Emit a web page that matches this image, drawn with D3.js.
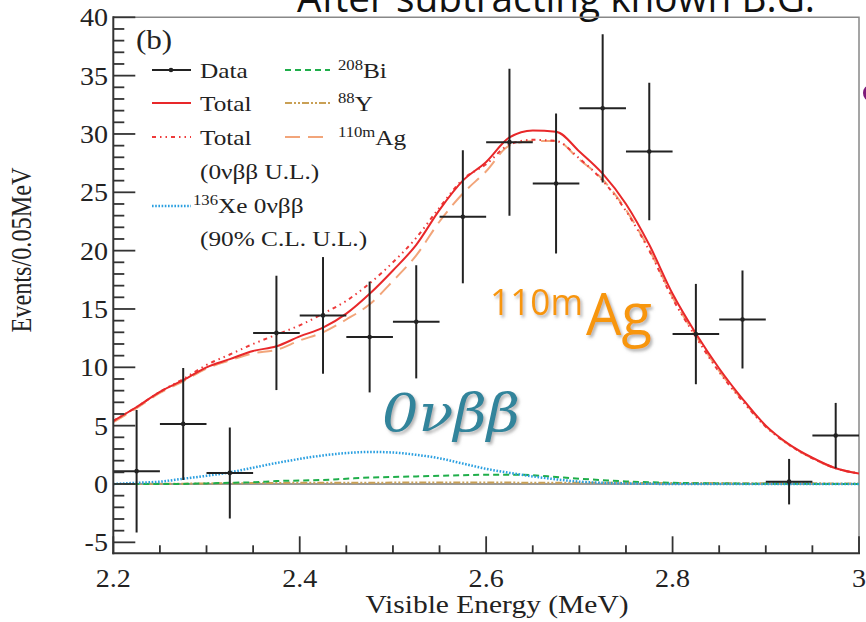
<!DOCTYPE html>
<html><head><meta charset="utf-8">
<script src="https://cdn.jsdelivr.net/npm/d3@7/dist/d3.min.js"></script>
<style>html,body{margin:0;padding:0;background:#fff;}svg{display:block;}</style>
</head><body>
<script>
// ---------- DATA ----------
const binCenters = [2.225,2.275,2.325,2.375,2.425,2.475,2.525,2.575,2.625,2.675,2.725,2.775,2.825,2.875,2.925,2.975];
const counts     = [1.1, 5.15, 0.95, 12.95, 14.45, 12.6, 13.9, 22.9, 29.3, 25.75, 32.2, 28.5, 12.85, 14.1, 0.2, 4.15];
const errors     = [5.25, 4.8, 3.9, 4.9, 5.0, 4.75, 4.85, 5.7, 6.3, 6.0, 6.35, 5.9, 4.3, 4.2, 1.95, 2.8];
const binHalfWidth = 0.025;

const energies = [2.2,2.225,2.25,2.275,2.3,2.325,2.35,2.375,2.4,2.425,2.45,2.475,2.5,2.525,2.55,2.575,2.6,2.625,2.65,2.675,2.7,2.725,2.75,2.775,2.8,2.825,2.85,2.875,2.9,2.925,2.95,2.975,3.0];
const totalFit   = [5.4,6.6,7.9,8.9,10.0,10.7,11.4,11.8,12.65,13.4,14.6,16.3,18.3,20.5,23.5,26.0,27.6,29.7,30.3,30.2,28.5,26.6,24.0,20.5,16.3,12.9,9.9,7.3,5.0,3.4,2.25,1.35,0.9];
const totalUL    = [5.4,6.6,7.9,9.0,10.2,11.1,12.0,12.8,13.6,14.6,15.7,17.2,19.0,21.1,23.7,26.1,27.4,29.1,29.5,29.4,27.9,26.0,23.4,20.0,15.9,12.6,9.6,7.1,4.9,3.35,2.2,1.35,0.9];
const ag110m     = [5.3,6.5,7.8,8.8,9.9,10.6,11.2,11.5,12.3,13.0,14.1,15.4,17.4,19.6,22.5,24.9,26.8,29.0,29.4,29.4,27.8,26.1,23.5,20.1,16.0,12.7,9.7,7.2,4.95,3.35,2.2,1.35,0.9];
const xe0nbb     = [0.0,0.1,0.2,0.45,0.7,1.0,1.4,1.8,2.15,2.45,2.65,2.75,2.7,2.5,2.2,1.75,1.3,0.95,0.65,0.4,0.2,0.1,0.05,0.02,0,0,0,0,0,0,0,0,0];
const bi208      = [0,0,0,0.01,0.05,0.1,0.15,0.25,0.3,0.35,0.45,0.55,0.6,0.65,0.7,0.75,0.8,0.8,0.75,0.6,0.45,0.33,0.22,0.15,0.1,0.07,0.05,0.03,0.02,0.02,0.01,0.01,0.01];
const y88        = [0,0.01,0.02,0.03,0.05,0.06,0.08,0.09,0.1,0.1,0.11,0.11,0.12,0.12,0.12,0.12,0.12,0.12,0.11,0.11,0.1,0.1,0.1,0.09,0.09,0.08,0.08,0.07,0.07,0.06,0.06,0.05,0.05];

const xTickLabels = ["2.2","2.4","2.6","2.8","3"];
const yTickLabels = ["-5","0","5","10","15","20","25","30","35","40"];

// ---------- LAYOUT ----------
const W = 866, H = 622;
const L = 113.3, R = 859, T = 17.3, B = 553.3;
const svg = d3.select("body").append("svg").attr("width", W).attr("height", H);
const x = d3.scaleLinear().domain([2.2, 3.0]).range([L, R]);
const y = d3.scaleLinear().domain([-5.94, 40]).range([B, T]);
const serif = "'Liberation Serif','Times New Roman',serif";
const SX = 1.15;

const defs = svg.append("defs");
defs.append("clipPath").attr("id","clip").append("rect").attr("x",L).attr("y",T).attr("width",R-L).attr("height",B-T);
const f = defs.append("filter").attr("id","shadow").attr("x","-10%").attr("y","-10%").attr("width","130%").attr("height","140%");
f.append("feDropShadow").attr("dx",2).attr("dy",2.5).attr("stdDeviation",1.6).attr("flood-color","#777").attr("flood-opacity",0.55);

function stext(g, px, py, str, fs, anchor, sx) {
  return g.append("text")
    .attr("transform", `translate(${px},${py}) scale(${sx||SX},1)`)
    .attr("font-family", serif).attr("font-size", fs)
    .attr("text-anchor", anchor || "start").attr("fill", "#222").text(str);
}

// Title (cut off at top, as in the reference)
svg.append("text").attr("x", 297).attr("y", 12).attr("font-family","'Open Sans','Liberation Sans',sans-serif")
  .attr("font-size", 40).attr("textLength", 518).attr("lengthAdjust","spacingAndGlyphs").attr("fill","#111")
  .text("After subtracting known B.G.");

// purple mark at right edge
svg.append("ellipse").attr("cx", 870).attr("cy", 93).attr("rx", 7).attr("ry", 8).attr("fill", "#7d1a7a");

// frame top/right
svg.append("path").attr("d", `M${L},${T}H${R}V${B}`).attr("fill","none").attr("stroke","#888").attr("stroke-width",1.5);

// zero line
svg.append("line").attr("x1",L).attr("x2",R).attr("y1",y(0)).attr("y2",y(0)).attr("stroke","#777").attr("stroke-width",1.6);

// ---------- CURVES ----------
const plot = svg.append("g").attr("clip-path","url(#clip)");
function curve(vals, color, width, dash) {
  const line = d3.line().x((d,i)=>x(energies[i])).y(d=>y(d)).curve(d3.curveMonotoneX);
  plot.append("path").datum(vals).attr("d", line).attr("fill","none").attr("stroke",color)
    .attr("stroke-width",width).attr("stroke-dasharray",dash||null);
}
curve(y88, "#c9a055", 2, "7,2,2,2,2,2");
curve(bi208, "#1fae4a", 2, "6,4");
curve(xe0nbb, "#2a9fe0", 2.5, "1.6,1.6");
curve(ag110m, "#f2a57a", 2, "15,8");
curve(totalUL, "#ee3a3a", 2, "4,4,1.5,4,1.5,4");
curve(totalFit, "#e8282a", 2);

// ---------- DATA POINTS ----------
const pts = plot.append("g").attr("stroke","#222").attr("stroke-width",2);
binCenters.forEach((c,i)=>{
  pts.append("line").attr("x1",x(c-binHalfWidth)).attr("x2",x(c+binHalfWidth)).attr("y1",y(counts[i])).attr("y2",y(counts[i]));
  pts.append("line").attr("x1",x(c)).attr("x2",x(c)).attr("y1",y(counts[i]-errors[i])).attr("y2",y(counts[i]+errors[i]));
  pts.append("circle").attr("cx",x(c)).attr("cy",y(counts[i])).attr("r",2.3).attr("fill","#222").attr("stroke","none");
});

// ---------- AXES ----------
const ax = svg.append("g").attr("stroke","#333").attr("stroke-width",2);
ax.append("line").attr("x1",L).attr("x2",L).attr("y1",T-1).attr("y2",B+1);
ax.append("line").attr("x1",L-1).attr("x2",R+1).attr("y1",B).attr("y2",B);
d3.range(-5, 41, 1).forEach(v=>{
  const major = v % 5 === 0;
  ax.append("line").attr("x1",L).attr("x2",L+(major?22:11)).attr("y1",y(v)).attr("y2",y(v)).attr("stroke-width",1.8);
});
d3.range(0, 17, 1).forEach(k=>{
  const v = 2.2 + k*0.05;
  const major = k % 4 === 0;
  ax.append("line").attr("x1",x(v)).attr("x2",x(v)).attr("y1",B).attr("y2",B-(major?17:8)).attr("stroke-width",1.8);
});
const labs = svg.append("g");
yTickLabels.forEach(s=>{ stext(labs, 108, y(+s)+9, s, 26, "end", 1.08); });
xTickLabels.forEach(s=>{ stext(labs, x(+s), 587, s, 26, "middle", 1.08); });
stext(labs, 497, 613, "Visible Energy (MeV)", 25, "middle", 1.18);
labs.append("text").attr("transform","translate(31,250) rotate(-90) scale(1,1.15)")
  .attr("font-family",serif).attr("font-size",26).attr("text-anchor","middle").attr("fill","#222")
  .attr("textLength",165).attr("lengthAdjust","spacingAndGlyphs").text("Events/0.05MeV");

// ---------- LEGEND ----------
const lg = svg.append("g");
stext(lg, 136, 49, "(b)", 27);
function sample(x1,x2,yy,color,w,dash){ lg.append("line").attr("x1",x1).attr("x2",x2).attr("y1",yy).attr("y2",yy).attr("stroke",color).attr("stroke-width",w).attr("stroke-dasharray",dash||null); }
sample(152,191,70,"#222",2); lg.append("circle").attr("cx",171).attr("cy",70).attr("r",2.3).attr("fill","#222");
sample(152,191,103,"#e8282a",2);
sample(152,191,137,"#ee3a3a",2,"4,4,1.5,4,1.5,4");
sample(152,191,206,"#2a9fe0",2.5,"1.6,1.6");
sample(285,330,70,"#1fae4a",2,"6,4");
sample(285,330,103,"#c9a055",2,"7,2,2,2,2,2");
sample(285,330,137,"#f2a57a",2,"15,8");
stext(lg, 200, 78, "Data", 22);
stext(lg, 200, 111, "Total", 22);
stext(lg, 200, 145, "Total", 22);
stext(lg, 200, 179, "(0νββ U.L.)", 22);
function supText(px, py, sup, main){
  const t = stext(lg, px, py, "", 22);
  t.append("tspan").attr("font-size",14.5).attr("dy",-8).text(sup);
  t.append("tspan").attr("font-size",22).attr("dy",8).text(main);
}
supText(193, 213, "136", "Xe 0νββ");
stext(lg, 200, 246, "(90% C.L. U.L.)", 22);
supText(338, 78, "208", "Bi");
supText(338, 111, "88", "Y");
supText(338, 145, "110m", "Ag");

// ---------- ANNOTATIONS ----------
const an = svg.append("g").attr("filter","url(#shadow)");
an.append("text").attr("x",490).attr("y",315).attr("font-family","'Open Sans','Liberation Sans',sans-serif")
  .attr("font-size",37).attr("fill","#f7960f").attr("textLength",93).attr("lengthAdjust","spacingAndGlyphs").text("110m");
an.append("text").attr("x",586).attr("y",335).attr("font-family","'Open Sans','Liberation Sans',sans-serif")
  .attr("font-size",58).attr("fill","#f7960f").attr("textLength",66).attr("lengthAdjust","spacingAndGlyphs").text("Ag");
an.append("text").attr("x",382).attr("y",431).attr("font-family","'DejaVu Serif','Liberation Serif',serif").attr("font-style","italic")
  .attr("font-size",52).attr("fill","#31849b").attr("textLength",138).attr("lengthAdjust","spacingAndGlyphs").text("0νββ");
</script>
</body></html>
